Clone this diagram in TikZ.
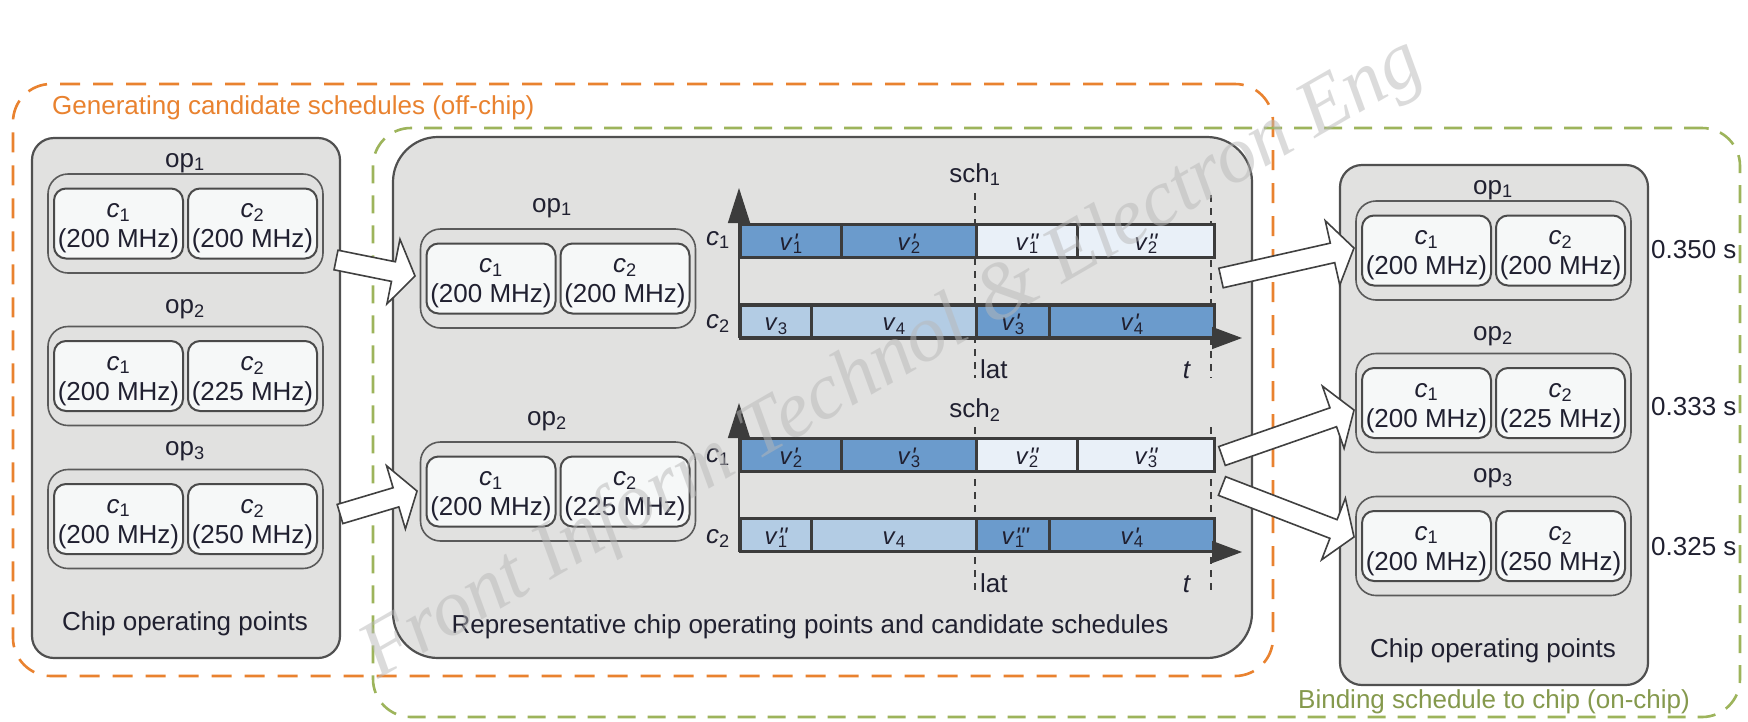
\documentclass[tikz,border=0pt]{standalone}
\usepackage{fontspec}
\setmainfont{Liberation Sans}
\newfontfamily\wmfont{Liberation Serif}
\usetikzlibrary{arrows.meta}
\definecolor{boxgray}{HTML}{E1E1E0}
\definecolor{boxline}{HTML}{505050}
\definecolor{grpline}{HTML}{5A5A5A}
\definecolor{coreline}{HTML}{4A4A4A}
\definecolor{corefill}{HTML}{F6F8F8}
\definecolor{dkb}{HTML}{6B9BCC}
\definecolor{ltb}{HTML}{B3CCE4}
\definecolor{plb}{HTML}{E9F0F8}
\definecolor{barline}{HTML}{3C3C3C}
\definecolor{txtcol}{HTML}{202030}
\definecolor{offc}{HTML}{E9822F}
\definecolor{onc}{HTML}{9DB45B}
\definecolor{arrline}{HTML}{404040}
\newcommand\mylbl{\fontsize{26}{30}\selectfont}
\newcommand\mysml{\fontsize{24}{28}\selectfont}
\newcommand\myp{\textquotesingle}
\newcommand\vlab[2]{\textit{v}\makebox[0pt][l]{\kern0.02em\textit{#1}}\textsubscript{#2}}
\newcommand\opgroup[4]{%
 \node[grpbox] (#1) at (#2,#3) {};
 \node[corebox] (#1a) at ({#2-67},#3) {};
 \node[corebox] (#1b) at ({#2+67},#3) {};
 \node[txt, anchor=base] (#1at) at ({#2-67},{#3-6}) {\textit{c}\textsubscript{1}};
 \node[txt, anchor=base] (#1af) at ({#2-67},{#3+24}) {(200 MHz)};
 \node[txt, anchor=base] (#1bt) at ({#2+67},{#3-6}) {\textit{c}\textsubscript{2}};
 \node[txt, anchor=base] (#1bf) at ({#2+67},{#3+24}) {(#4 MHz)};
}
\newcommand\chipcolumn[3]{%
 \begin{scope}[shift={(#2,#3)}]
 \node[bigbox, minimum width=308pt, minimum height=520pt] (#1) at (186,398) {};
 \node[txt, anchor=base] (#1op1) at (185,167) {op\textsubscript{1}};
 \opgroup{#1g1}{185.5}{223.5}{200}
 \node[txt, anchor=base] (#1op2) at (185,313) {op\textsubscript{2}};
 \opgroup{#1g2}{185.5}{376}{225}
 \node[txt, anchor=base] (#1op3) at (185,455) {op\textsubscript{3}};
 \opgroup{#1g3}{185.5}{519}{250}
 \node[txt, anchor=base] (#1cap) at (185,630) {Chip operating points};
 \end{scope}}
\newcommand\seg[6]{\node[segbox, fill=#5, minimum width={#3-#2}] (#1) at (#2,#4) {#6};}
\newcommand\blockarrow[4]{%
 \draw[blockarr, shift={(#1,#2)}, rotate=#3] (0,-10) -- ({#4-22},-10) -- ({#4-22},-33) -- (#4,0) -- ({#4-22},33) -- ({#4-22},10) -- (0,10) -- cycle;}
\begin{document}
\begin{tikzpicture}[x=1pt,y=-1pt,
 bigbox/.style={draw=boxline, line width=2.2pt, fill=boxgray, rounded corners=22pt, inner sep=0pt},
 grpbox/.style={draw=grpline, line width=1.6pt, fill=boxgray, rounded corners=20pt, minimum width=275pt, minimum height=99pt, inner sep=0pt},
 corebox/.style={draw=coreline, line width=2pt, fill=corefill, rounded corners=12pt, minimum width=129pt, minimum height=70pt, inner sep=0pt},
 txt/.style={font=\mylbl, text=txtcol, inner sep=0pt},
 segbox/.style={draw=barline, line width=3.2pt, minimum height=33pt, inner sep=0pt, anchor=west, font=\mysml, text=txtcol, text height=18pt, text depth=0pt},
 blockarr/.style={draw=arrline, line width=1.6pt, fill=white, line join=miter},
 vdash/.style={draw=barline, line width=1.4pt, dash pattern=on 7pt off 6pt},
 axisline/.style={draw=barline, line width=1.4pt},
 outerbox/.style={line width=2.6pt, rounded corners=38pt, inner sep=0pt},
]
\useasboundingbox (0,0) rectangle (1748,721);
\fill[white] (0,0) rectangle (1748,721);
% outer dashed regions
\node[outerbox, draw=offc, dash pattern=on 20pt off 13pt, minimum width=1260pt, minimum height=592pt] (offchip) at (643,380) {};
\node[outerbox, draw=onc, dash pattern=on 18pt off 12pt, minimum width=1367pt, minimum height=589pt] (onchip) at (1056.5,422.5) {};
\node[font=\mylbl, text=offc, inner sep=0pt, anchor=base west] (offlbl) at (52,114) {Generating candidate schedules (off-chip)};
\node[font=\mylbl, text=onc!85!black, inner sep=0pt, anchor=base west] (onlbl) at (1298,708) {Binding schedule to chip (on-chip)};
% left and right columns
\chipcolumn{L}{0}{0}
\chipcolumn{R}{1308}{27}
\node[txt, anchor=base west] (t1) at (1651,258) {0.350 s};
\node[txt, anchor=base west] (t2) at (1651,415) {0.333 s};
\node[txt, anchor=base west] (t3) at (1651,555) {0.325 s};
% middle box
\node[bigbox, rounded corners=45pt, minimum width=859pt, minimum height=521pt] (M) at (822.5,397.5) {};
\node[txt, anchor=base] (Mop1) at (552,212) {op\textsubscript{1}};
\opgroup{Mg1}{558}{278.5}{200}
\node[txt, anchor=base] (Mop2) at (547,425) {op\textsubscript{2}};
\opgroup{Mg2}{558}{491.5}{225}
\node[txt, anchor=base] (Mcap) at (810,633) {Representative chip operating points and candidate schedules};
% chart 1
\draw[vdash] (975,193) -- (975,378);
\draw[vdash] (1211,195) -- (1211,378);
\node[txt, anchor=base] (sch1) at (975,182) {sch\textsubscript{1}};
\node[txt, anchor=base west] (ca1) at (706,245) {\textit{c}\textsubscript{1}};
\node[txt, anchor=base west] (cb1) at (706,328) {\textit{c}\textsubscript{2}};
\node[txt, anchor=base west] (lat1) at (980,378) {lat};
\node[txt, anchor=base] (tt1) at (1187,378) {\textit{t}};
\seg{s1a1}{739}{840}{241}{dkb}{\vlab{\myp}{1}}
\seg{s1a2}{840}{975}{241}{dkb}{\vlab{\myp}{2}}
\seg{s1a3}{975}{1076}{241}{plb}{\vlab{\myp\myp}{1}}
\seg{s1a4}{1076}{1213}{241}{plb}{\vlab{\myp\myp}{2}}
\seg{s1b1}{739}{810}{321.5}{ltb}{\vlab{}{3}}
\seg{s1b2}{810}{975}{321.5}{ltb}{\vlab{}{4}}
\seg{s1b3}{975}{1048}{321.5}{dkb}{\vlab{\myp}{3}}
\seg{s1b4}{1048}{1213}{321.5}{dkb}{\vlab{\myp}{4}}
\draw[axisline, -{Triangle[width=22pt,length=35pt]}] (739,338) -- (739,188);
\draw[axisline, -{Triangle[width=22pt,length=30pt]}] (739,338) -- (1242,338);
% chart 2
\draw[vdash] (975,427) -- (975,592);
\draw[vdash] (1211,427) -- (1211,592);
\node[txt, anchor=base] (sch2) at (975,417) {sch\textsubscript{2}};
\node[txt, anchor=base west] (ca2) at (706,462) {\textit{c}\textsubscript{1}};
\node[txt, anchor=base west] (cb2) at (706,543) {\textit{c}\textsubscript{2}};
\node[txt, anchor=base west] (lat2) at (980,592) {lat};
\node[txt, anchor=base] (tt2) at (1187,592) {\textit{t}};
\seg{s2a1}{739}{840}{455}{dkb}{\vlab{\myp}{2}}
\seg{s2a2}{840}{975}{455}{dkb}{\vlab{\myp}{3}}
\seg{s2a3}{975}{1076}{455}{plb}{\vlab{\myp\myp}{2}}
\seg{s2a4}{1076}{1213}{455}{plb}{\vlab{\myp\myp}{3}}
\seg{s2b1}{739}{810}{535}{ltb}{\vlab{\myp\myp}{1}}
\seg{s2b2}{810}{975}{535}{ltb}{\vlab{}{4}}
\seg{s2b3}{975}{1048}{535}{dkb}{\vlab{\myp\myp\myp}{1}}
\seg{s2b4}{1048}{1213}{535}{dkb}{\vlab{\myp}{4}}
\draw[axisline, -{Triangle[width=22pt,length=35pt]}] (739,552) -- (739,403);
\draw[axisline, -{Triangle[width=22pt,length=30pt]}] (739,552) -- (1242,552);
% block arrows
\blockarrow{336}{260}{-11.4}{80.6}
\blockarrow{340}{514}{16.6}{80.4}
\blockarrow{1221}{278}{12.7}{136.3}
\blockarrow{1222}{456}{19.2}{139.8}
\blockarrow{1222}{486}{-21.1}{141.5}
% watermark
\node[font=\wmfont\itshape\fontsize{80}{90}\selectfont, text=black!28, opacity=0.5, rotate=30, inner sep=0pt] (wm) at (893,360) {Front Inform Technol \& Electron Eng};
\end{tikzpicture}
\end{document}
